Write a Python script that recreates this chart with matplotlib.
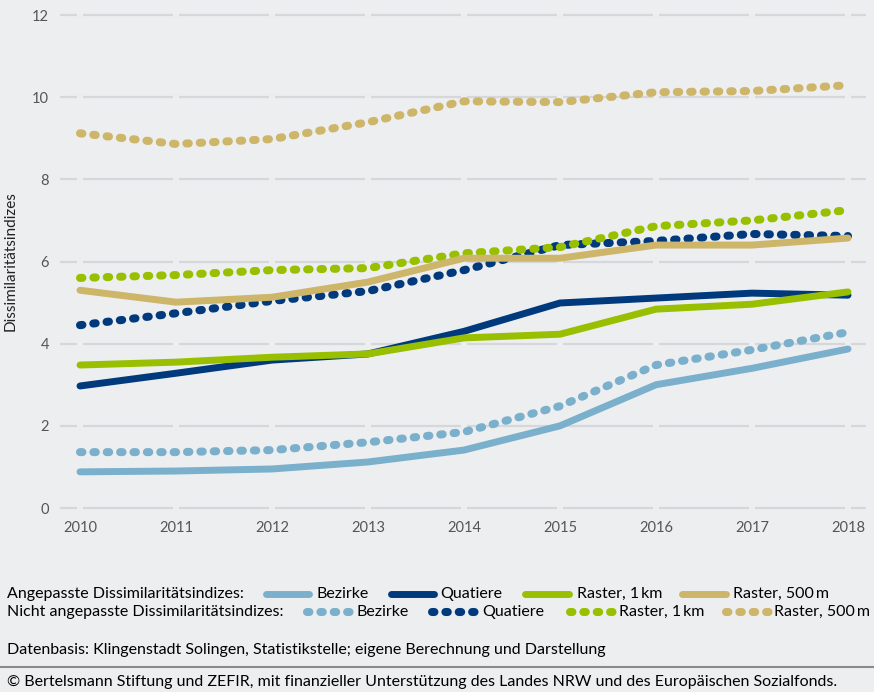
import matplotlib.pyplot as plt
from matplotlib.lines import Line2D

plt.rcParams['font.family'] = ['Lato', 'DejaVu Sans']

BG = '#edeef0'
COLORS = {
    'bezirke': '#7ab0cc',
    'quatiere': '#003a7d',
    'raster1km': '#98c000',
    'raster500': '#cdb56a',
}

years = [2010, 2011, 2012, 2013, 2014, 2015, 2016, 2017, 2018]

# Angepasste Dissimilaritaetsindizes (solid)
bezirke_adj = [0.88, 0.90, 0.95, 1.12, 1.41, 2.00, 3.00, 3.40, 3.87]
quatiere_adj = [2.97, 3.28, 3.60, 3.75, 4.30, 4.99, 5.11, 5.23, 5.18]
raster1km_adj = [3.48, 3.55, 3.67, 3.75, 4.14, 4.23, 4.84, 4.96, 5.26]
raster500_adj = [5.30, 5.01, 5.13, 5.50, 6.08, 6.08, 6.40, 6.40, 6.57]

# Nicht angepasste Dissimilaritaetsindizes (dotted)
bezirke_raw = [1.36, 1.36, 1.41, 1.60, 1.85, 2.48, 3.48, 3.85, 4.28]
quatiere_raw = [4.45, 4.74, 5.04, 5.28, 5.79, 6.40, 6.50, 6.67, 6.62]
raster1km_raw = [5.60, 5.67, 5.79, 5.84, 6.20, 6.35, 6.86, 7.00, 7.25]
raster500_raw = [9.12, 8.86, 8.98, 9.39, 9.90, 9.88, 10.12, 10.15, 10.29]

series_labels = ['Bezirke', 'Quatiere', 'Raster, 1\u2009km', 'Raster, 500\u2009m']
yticks = [0, 2, 4, 6, 8, 10, 12]

W, H = 874, 692
fig = plt.figure(figsize=(W / 100, H / 100), dpi=100, facecolor=BG)
ax = fig.add_axes([60 / W, 1 - 508 / H, 806 / W, 493 / H], facecolor=BG)

x0 = 2010 - 20 / 96
x1 = 2018 + 18 / 96
ax.set_xlim(x0, x1)
ax.set_ylim(0, 12)

# broken gridlines (gaps at each year)
gap = 0.03
edges = [x0] + years + [x1]
for yv in yticks:
    for a, b in zip(edges[:-1], edges[1:]):
        lo = a + gap if a in years else a
        hi = b - gap if b in years else b
        ax.plot([lo, hi], [yv, yv], color='#d5d7da', lw=1.6, zorder=0,
                solid_capstyle='butt', clip_on=False)

dot_style = (0, (0.3, 1.36))
solid_lw = 5.0
dot_lw = 5.8

raw = [bezirke_raw, quatiere_raw, raster1km_raw, raster500_raw]
adj = [bezirke_adj, quatiere_adj, raster1km_adj, raster500_adj]
keys = ['bezirke', 'quatiere', 'raster1km', 'raster500']

for k, vals in zip(keys, raw):
    ax.plot(years, vals, color=COLORS[k], lw=dot_lw, linestyle=dot_style,
            dash_capstyle='round', zorder=2)
for k, vals in zip(keys, adj):
    ax.plot(years, vals, color=COLORS[k], lw=solid_lw, solid_capstyle='round',
            solid_joinstyle='round', zorder=3)

ax.set_xticks(years)
ax.set_yticks(yticks)
ax.tick_params(length=0, labelsize=10.5, labelcolor='#555555', pad=8)
ax.tick_params(axis='x', pad=9)
for s in ax.spines.values():
    s.set_visible(False)
ax.set_ylabel('Dissimilaritätsindizes', fontsize=11, color='#222222', labelpad=10)

# legend, drawn by hand
fs = 11.5
r1, r2 = 1 - 594 / H, 1 - 612 / H
fig.text(7 / W, r1, 'Angepasste Dissimilaritätsindizes:', fontsize=fs, va='center')
fig.text(7 / W, r2, 'Nicht angepasste Dissimilaritätsindizes:', fontsize=fs, va='center')

solid_pos = [(266, 309, 316), (391, 434, 440), (525, 569, 577), (682, 726, 733)]
dot_pos = [(307, 352, 357), (432, 476, 482), (570, 613, 619), (726, 769, 774)]
for k, lab, (a, b, t) in zip(keys, series_labels, solid_pos):
    fig.add_artist(Line2D([a / W, b / W], [r1, r1], color=COLORS[k], lw=solid_lw,
                          solid_capstyle='round'))
    fig.text(t / W, r1, lab, fontsize=fs, va='center')
for k, lab, (a, b, t) in zip(keys, series_labels, dot_pos):
    fig.add_artist(Line2D([a / W, b / W], [r2, r2], color=COLORS[k], lw=dot_lw,
                          linestyle=dot_style, dash_capstyle='round'))
    fig.text(t / W, r2, lab, fontsize=fs, va='center')

fig.text(7 / W, 1 - 650 / H,
         'Datenbasis: Klingenstadt Solingen, Statistikstelle; eigene Berechnung und Darstellung',
         fontsize=fs, va='center')
fig.add_artist(Line2D([0, 1], [1 - 667 / H] * 2, color='#8a8a8a', lw=1.5))
fig.text(7 / W, 1 - 682 / H,
         '© Bertelsmann Stiftung und ZEFIR, mit finanzieller Unterstützung des Landes NRW und des Europäischen Sozialfonds.',
         fontsize=fs, va='center')

fig.savefig('out.png', dpi=100, facecolor=BG)
